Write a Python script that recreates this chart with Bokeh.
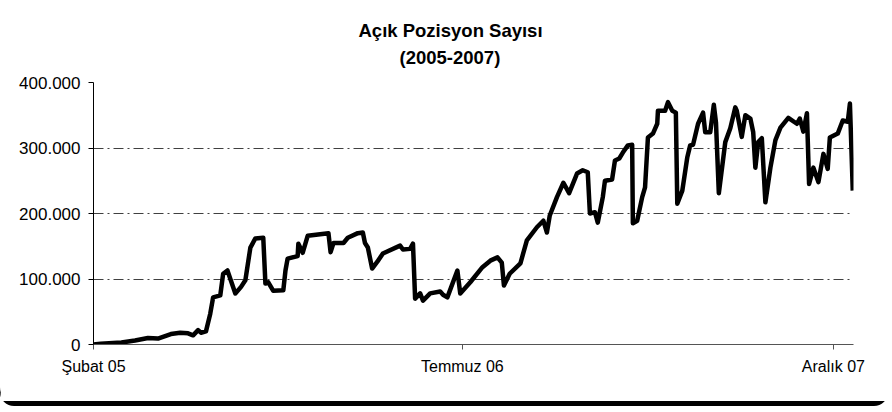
import pandas as pd
from bokeh.plotting import figure
from bokeh.models import Range1d, FixedTicker, Title, ColumnDataSource
from bokeh.embed import file_html
from bokeh.resources import INLINE

title_line1 = "Açık Pozisyon Sayısı"
title_line2 = "(2005-2007)"

dates = [
    "2005-02-01", "2005-02-11", "2005-03-12", "2005-03-31", "2005-04-18", "2005-05-02", "2005-05-20", "2005-06-02", "2005-06-13", "2005-06-20",
    "2005-06-27", "2005-07-01", "2005-07-08", "2005-07-14", "2005-07-18", "2005-07-28", "2005-08-01", "2005-08-07", "2005-08-18", "2005-08-26",
    "2005-09-01", "2005-09-08", "2005-09-15", "2005-09-26", "2005-09-29", "2005-10-03", "2005-10-10", "2005-10-24", "2005-10-27", "2005-10-30",
    "2005-11-13", "2005-11-14", "2005-11-20", "2005-11-27", "2005-12-26", "2005-12-29", "2006-01-02", "2006-01-16", "2006-01-22", "2006-02-05",
    "2006-02-12", "2006-02-15", "2006-02-19", "2006-02-25", "2006-03-04", "2006-03-12", "2006-04-05", "2006-04-09", "2006-04-19", "2006-04-23",
    "2006-04-26", "2006-05-03", "2006-05-07", "2006-05-17", "2006-05-31", "2006-06-04", "2006-06-10", "2006-06-24", "2006-06-28", "2006-07-12",
    "2006-07-29", "2006-08-09", "2006-08-19", "2006-08-25", "2006-08-28", "2006-09-05", "2006-09-20", "2006-09-29", "2006-10-13", "2006-10-22",
    "2006-10-27", "2006-10-31", "2006-11-10", "2006-11-19", "2006-11-27", "2006-12-08", "2006-12-16", "2006-12-23", "2006-12-26", "2007-01-02",
    "2007-01-06", "2007-01-13", "2007-01-16", "2007-01-26", "2007-01-30", "2007-02-05", "2007-02-10", "2007-02-17", "2007-02-23", "2007-02-24",
    "2007-03-02", "2007-03-09", "2007-03-13", "2007-03-17", "2007-03-24", "2007-03-30", "2007-03-31", "2007-04-10", "2007-04-14", "2007-04-20",
    "2007-04-25", "2007-04-27", "2007-05-04", "2007-05-11", "2007-05-15", "2007-05-19", "2007-05-26", "2007-06-02", "2007-06-05", "2007-06-12",
    "2007-06-17", "2007-06-20", "2007-06-24", "2007-07-03", "2007-07-10", "2007-07-17", "2007-07-19", "2007-07-26", "2007-07-31", "2007-08-07",
    "2007-08-11", "2007-08-14", "2007-08-18", "2007-08-23", "2007-08-28", "2007-09-04", "2007-09-11", "2007-09-18", "2007-09-29", "2007-10-11",
    "2007-10-15", "2007-10-20", "2007-10-25", "2007-10-28", "2007-11-03", "2007-11-10", "2007-11-17", "2007-11-23", "2007-11-26", "2007-12-07",
    "2007-12-14", "2007-12-21", "2007-12-24", "2007-12-28",
]

# open positions, in thousands
positions_k = [
    0, 1, 3, 6, 10, 9, 16, 18, 17, 14,
    22, 18, 20, 47, 72, 75, 108, 113, 78, 88,
    98, 148, 162, 163, 93, 95, 82, 83, 113, 131,
    135, 154, 140, 166, 170, 141, 155, 155, 163, 170,
    171, 155, 148, 116, 126, 139, 151, 145, 146, 154,
    70, 78, 67, 78, 81, 76, 72, 113, 78, 95,
    118, 128, 133, 125, 90, 108, 124, 159, 179, 189,
    171, 197, 225, 247, 231, 261, 266, 263, 200, 202,
    186, 225, 250, 252, 281, 284, 293, 304, 305, 185,
    189, 225, 240, 316, 322, 337, 357, 357, 370, 357,
    354, 215, 235, 286, 304, 305, 337, 354, 324, 324,
    366, 339, 231, 309, 330, 362, 357, 317, 350, 345,
    324, 270, 309, 315, 217, 270, 312, 331, 346, 337,
    345, 325, 353, 245, 270, 248, 291, 268, 316, 322,
    342, 340, 368, 235,
]

x_tick_dates = ["2005-02-01", "2006-07-01", "2007-12-01"]
x_tick_labels = ["Şubat 05", "Temmuz 06", "Aralık 07"]
y_ticks = [0, 100000, 200000, 300000, 400000]
y_tick_labels = ["0", "100.000", "200.000", "300.000", "400.000"]
x_start = "2005-02-01"
x_end = "2007-12-29"

start = pd.Timestamp(x_start)
def day_of(d):
    return (pd.Timestamp(d) - start).days

n = min(len(dates), len(positions_k))
src = ColumnDataSource(dict(
    x=[day_of(d) for d in dates[:n]],
    y=[v * 1000 for v in positions_k[:n]],
))

FONT = "Liberation Sans"

p = figure(width=888, height=401, output_backend="svg", toolbar_location=None,
           x_range=Range1d(0, day_of(x_end)), y_range=Range1d(0, 400000),
           min_border_left=93, min_border_right=35, min_border_top=82, min_border_bottom=57,
           title=title_line1)

p.background_fill_color = "white"
p.border_fill_color = "white"
p.outline_line_color = None
p.styles = {"border-radius": "14px", "box-shadow": "0 5px 0 0 #000"}

p.line("x", "y", source=src, line_width=4.5, line_color="black", line_join="round")

xt = [day_of(d) for d in x_tick_dates]
xax = p.below[0]
xax.ticker = FixedTicker(ticks=xt)
xax.major_label_overrides = {t: l for t, l in zip(xt, x_tick_labels)}
xax.minor_tick_line_color = None
xax.major_tick_out = 5
xax.major_tick_in = 0
xax.axis_line_color = "#555555"
xax.major_tick_line_color = "#555555"
xax.major_label_text_font = FONT
xax.major_label_text_font_size = "16px"
xax.major_label_text_color = "black"
xax.major_label_standoff = 8

yax = p.left[0]
yax.ticker = FixedTicker(ticks=y_ticks)
yax.major_label_overrides = {t: l for t, l in zip(y_ticks, y_tick_labels)}
yax.minor_tick_line_color = None
yax.major_tick_out = 5
yax.major_tick_in = 0
yax.axis_line_color = "black"
yax.major_tick_line_color = "black"
yax.major_label_text_font = FONT
yax.major_label_text_font_size = "17px"
yax.major_label_text_color = "black"
yax.major_label_standoff = 8

p.xgrid.grid_line_color = None
p.ygrid.grid_line_color = "#404040"
p.ygrid.grid_line_dash = "10 4 2 4"
p.ygrid.grid_line_width = 1

# second title line sits next to the frame; its standoff leaves the gap above the plot
p.add_layout(Title(text=title_line2, text_font=FONT, text_font_size="18.5px",
                   text_font_style="bold", text_color="black", align="left",
                   offset=306, standoff=30), "above")
p.title.text_font = FONT
p.title.text_font_size = "18.5px"
p.title.text_font_style = "bold"
p.title.text_color = "black"
p.title.align = "left"
p.title.offset = 265
p.title.standoff = -22

open("out.html", "w").write(file_html(p, INLINE))
